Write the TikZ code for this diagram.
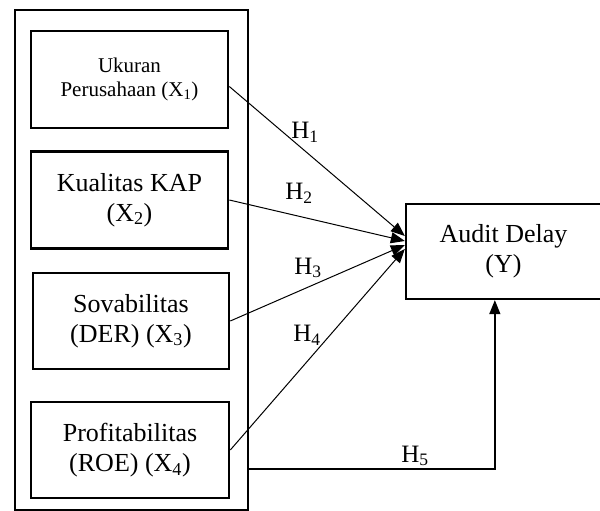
\documentclass[tikz,border=0pt]{standalone}
\usepackage{fontspec}
\setmainfont{Liberation Serif}
\usetikzlibrary{arrows.meta}
\tikzset{
  varbox/.style={draw,line width=2.6pt,minimum width=197pt,minimum height=97pt,
    align=center,font=\fontsize{26}{30}\selectfont},
  hyp/.style={-{Triangle[length=14pt,width=11pt]},line width=1pt},
  hlabel/.style={font=\fontsize{25}{28}\selectfont,inner sep=0pt}
}

\begin{document}
\begin{tikzpicture}[x=1pt,y=1pt,line cap=butt,line join=miter]
\useasboundingbox (0,0) rectangle (600,511);
\fill[white] (0,0) rectangle (600,511);

% group frame round the independent variables
\node[draw,line width=2.3pt,minimum width=233pt,minimum height=500pt] (grp) at (131.5,251) {};

% independent variables
\node[varbox,font=\fontsize{21}{24}\selectfont] (ukuran) at (129.5,431.5)
  {Ukuran\\Perusahaan (X\textsubscript{1})};
\node[varbox] (kap) at (129.5,311) {Kualitas KAP\\(X\textsubscript{2})};
\node[varbox,minimum width=196pt,minimum height=96pt] (solv) at (131,190)
  {Sovabilitas\\(DER) (X\textsubscript{3})};
\node[varbox,minimum width=198pt,minimum height=96pt] (profit) at (130,61)
  {Profitabilitas\\(ROE) (X\textsubscript{4})};

% dependent variable
\node[draw,line width=2.3pt,minimum width=195pt,minimum height=95pt,align=center,
  font=\fontsize{26}{30}\selectfont] (delay) at (503.5,259.5) {Audit Delay\\(Y)};

% hypotheses
\draw[hyp] ([yshift=-7pt]ukuran.east) -- ([yshift=15.5pt]delay.west);
\draw[hyp] (kap.east) -- ([yshift=10.5pt]delay.west);
\draw[hyp] (solv.east) -- ([yshift=6.5pt]delay.west);
\draw[hyp] (profit.east) -- ([yshift=2.5pt]delay.west);
\coordinate (h5start) at ([yshift=42pt]grp.south east);
\draw[hyp,line width=1.3pt] (h5start) -| ([xshift=90pt]delay.south west);

\node[hlabel] (h1) at (305,379) {H\textsubscript{1}};
\node[hlabel] (h2) at (299,318) {H\textsubscript{2}};
\node[hlabel] (h3) at (308,243) {H\textsubscript{3}};
\node[hlabel] (h4) at (307,176) {H\textsubscript{4}};
\node[hlabel] (h5) at (415,55) {H\textsubscript{5}};

\end{tikzpicture}
\end{document}
